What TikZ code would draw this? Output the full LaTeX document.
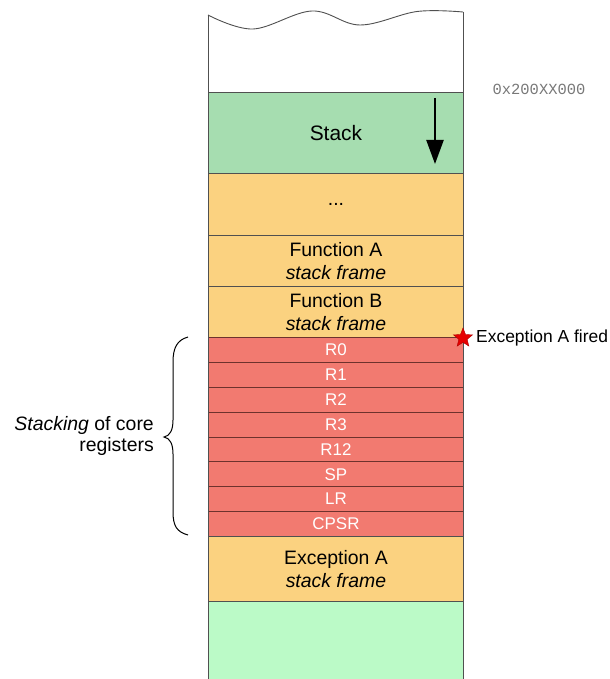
\documentclass[tikz,border=0pt]{standalone}
\usepackage{fontspec}
\setmainfont{Liberation Sans}
\newfontfamily\hexfont{Liberation Mono}
\usetikzlibrary{shapes.geometric,arrows.meta}
\definecolor{stackgreen}{RGB}{166,221,176}
\definecolor{frameorange}{RGB}{251,210,128}
\definecolor{regred}{RGB}{242,122,112}
\definecolor{freegreen}{RGB}{187,250,199}
\definecolor{edgegray}{RGB}{80,80,80}
\definecolor{regline}{RGB}{110,50,45}
\definecolor{hexgray}{RGB}{120,120,120}
\begin{document}
\begin{tikzpicture}[x=1bp,y=-1bp,
  cell/.style={draw=edgegray, line width=0.9bp, minimum width=255bp, inner sep=0pt,
    anchor=north west, align=center, font=\fontsize{19.5}{23}\selectfont},
  regcell/.style={cell, fill=regred, draw=regline, minimum height=24.875bp,
    text=white, font=\fontsize{17}{19}\selectfont},
  sidetext/.style={font=\fontsize{17.5}{22}\selectfont, inner sep=0pt}]
\useasboundingbox (0,0) rectangle (610,679);
% top open region
\fill[white] (208,15) plot[smooth, tension=0.6] coordinates {(208,15) (253,29) (312,11) (360,25) (417,11.5) (463,12)} -- (463,92) -- (208,92) -- cycle;
\draw[edgegray, line width=0.9bp] plot[smooth, tension=0.6] coordinates {(208,15) (253,29) (312,11) (360,25) (417,11.5) (463,12)};
% rows
\node[cell, fill=stackgreen, minimum height=81bp, font=\fontsize{21}{23}\selectfont] (stack) at (208,92) {Stack};
\node[cell, fill=frameorange, minimum height=62bp] (dots) at (208,173) {...};
\node[cell, fill=frameorange, minimum height=51bp] (funA) at (208,235) {Function A\\\textit{stack frame}};
\node[cell, fill=frameorange, minimum height=51bp] (funB) at (208,286) {Function B\\\textit{stack frame}};
\node[regcell] (r0) at (208,337) {R0};
\node[regcell] (r1) at (208,361.875) {R1};
\node[regcell] (r2) at (208,386.75) {R2};
\node[regcell] (r3) at (208,411.625) {R3};
\node[regcell] (r12) at (208,436.5) {R12};
\node[regcell] (sp) at (208,461.375) {SP};
\node[regcell] (lr) at (208,486.25) {LR};
\node[regcell] (cpsr) at (208,511.125) {CPSR};
\node[cell, fill=frameorange, minimum height=65bp] (excA) at (208,536) {Exception A\\\textit{stack frame}};
\node[cell, draw=none, fill=freegreen, minimum height=78bp] (free) at (208,601) {};
\draw[edgegray, line width=0.9bp] (free.north west) -- (free.north east);
% column sides
\draw[edgegray, line width=0.9bp] (208,15) -- (208,679);
\draw[edgegray, line width=0.9bp] (463,12) -- (463,679);
% growth arrow
\coordinate (arrS) at (435,98);
\coordinate (arrE) at (435,164);
\draw[line width=2.3bp, -{Triangle[length=24bp,width=17bp]}] (arrS) -- (arrE);
% address label
\node[font=\hexfont\fontsize{15.5}{17}\selectfont, text=hexgray] (addr) at (539,89) {0x200XX000};
% exception fired
\node[star, star points=5, star point ratio=2.3, fill=red!90!black, draw=red!70!black, line width=0.4bp, minimum size=20bp, inner sep=0pt] (fire) at (463,338) {};
\node[sidetext, anchor=west] (firetext) at (476,338) {Exception A fired};
% brace
\coordinate (braceTop) at (188,337);
\coordinate (braceTip) at (164,437);
\coordinate (braceBot) at (188,535);
\draw[line width=1bp] (braceTop) .. controls (177,340) and (173,348) .. (173,362) -- (173,420) .. controls (173,430) and (170,436) .. (braceTip) .. controls (170,438) and (173,444) .. (173,454) -- (173,512) .. controls (173,526) and (177,532) .. (braceBot);
\node[sidetext, anchor=east, align=right, font=\fontsize{19.5}{22}\selectfont] (stacking) at (154,436) {\textit{Stacking} of core\\registers};
\end{tikzpicture}
\end{document}
